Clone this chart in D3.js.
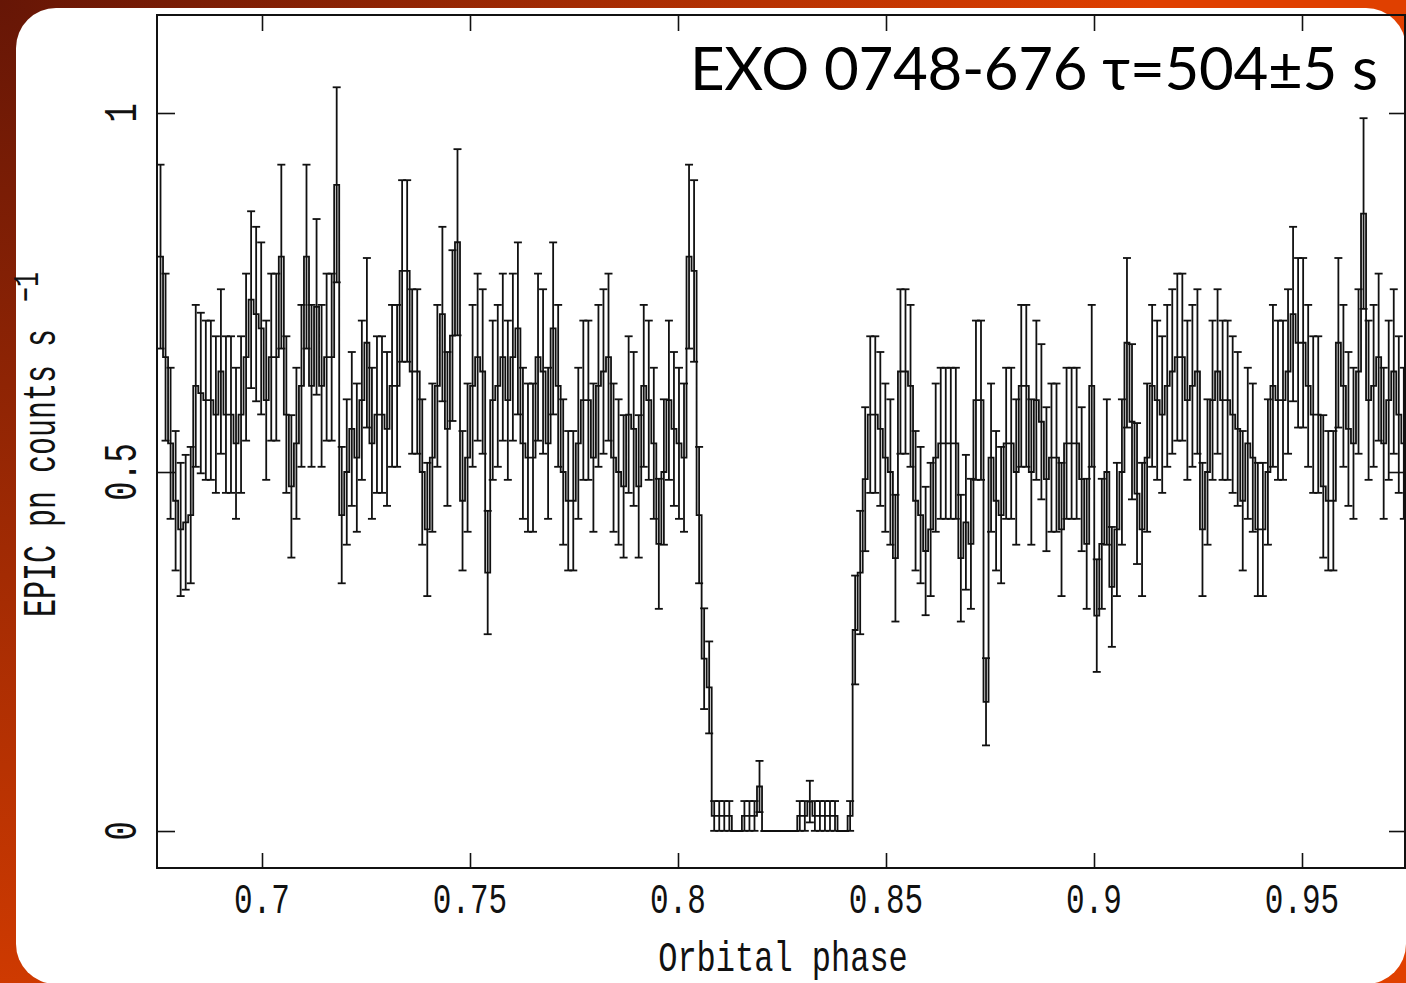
<!DOCTYPE html>
<html>
<head>
<meta charset="utf-8">
<title>EXO 0748-676 eclipse</title>
<script src="https://d3js.org/d3.v7.min.js"></script>
<style>
  body { margin:0; }
  svg { display:block; }
  .frame { fill:none; stroke:#111; stroke-width:2; }
  .hist { fill:none; stroke:#111; stroke-width:1.8; }
  .err { stroke:#111; stroke-width:1.8; }
  .axis path { display:none; }
  .axis line { stroke:#111; stroke-width:1.6; }
  .mono { font-family:"Liberation Mono", "DejaVu Sans Mono", monospace; fill:#111; }
</style>
</head>
<body>
<script>
// folded EPIC pn light curve, one bin = 0.00121 in phase
var phaseStart = 0.675;
var binWidth = 0.00121;
var countRate = 0.0205;   // rate that one count in a bin gives

// count rates before the eclipse
var ratePre = [0.80,0.66,0.54,0.46,0.42,0.43,0.44,0.62,0.61,0.60,0.60,0.58,0.64,0.58,0.58,0.54,0.58,0.66,0.74,0.72,0.70,0.60,0.66,0.66,
  0.80,0.58,0.48,0.54,0.62,0.80,0.62,0.73,0.62,0.66,0.66,0.90,0.44,0.50,0.56,0.52,0.60,0.68,0.54,0.58,0.58,0.56,0.62,0.62,0.78,
  0.78,0.64,0.64,0.50,0.42,0.52,0.62,0.72,0.56,0.69,0.82,0.46,0.52,0.62,0.66,0.64,0.36,0.60,0.62,0.66,0.60,0.66,0.70,0.54,0.52,
  0.52,0.66,0.64,0.54,0.70,0.62,0.50,0.46,0.46,0.54,0.60,0.60,0.52,0.62,0.64,0.66,0.52,0.50,0.48,0.58,0.56,0.48,0.62,0.60,0.54,
  0.40,0.50,0.60,0.56,0.54,0.52,0.80,0.78,0.44,0.24,0.20];
// count rates in the eclipse
var rateEclipse = [0.021,0.021,0.021,0.021,0,0,0.021,0.021,0.021,0.062,0,0,0,0,0,0,0,0.021,0.021,0.041,0.021,0.021,0.021,0.021,0.021,0,0,0.021];
// count rates after the eclipse
var ratePost = [0.28,0.36,0.49,0.58,0.58,0.56,0.52,0.50,0.38,0.64,
  0.64,0.62,0.46,0.44,0.39,0.42,0.52,0.54,0.54,0.54,0.54,0.38,0.43,0.40,0.60,0.60,0.18,0.52,0.46,0.44,0.54,0.54,0.50,0.62,0.62,
  0.50,0.60,0.57,0.49,0.52,0.52,0.42,0.54,0.54,0.54,0.49,0.40,0.62,0.30,0.40,0.50,0.34,0.42,0.50,0.68,0.57,0.47,0.42,0.52,0.62,
  0.60,0.58,0.62,0.64,0.66,0.66,0.60,0.62,0.64,0.42,0.50,0.60,0.64,0.60,0.60,0.58,0.56,0.46,0.54,0.52,0.42,0.42,0.50,0.62,0.60,
  0.60,0.64,0.72,0.68,0.68,0.62,0.58,0.58,0.48,0.46,0.46,0.68,0.62,0.56,0.54,0.64,0.86,0.60,0.62,0.66,0.54,0.60,0.64,0.58,0.54];

var xTicks = [0.7, 0.75, 0.8, 0.85, 0.9, 0.95];
var xTickLabels = ["0.7", "0.75", "0.8", "0.85", "0.9", "0.95"];
var yTicks = [0, 0.5, 1];
var yTickLabels = ["0", "0.5", "1"];
var titleText = "EXO 0748-676 \u03c4=504\u00b15 s";
var xTitle = "Orbital phase";
var yTitle = "EPIC pn counts s";

var W = 1406, H = 983;
var L = 157, R = 1405, T = 15, B = 868;

var svg = d3.select("body").append("svg").attr("width", W).attr("height", H);
var defs = svg.append("defs");
var grad = defs.append("radialGradient").attr("id", "bg")
  .attr("gradientUnits", "userSpaceOnUse").attr("cx", 0).attr("cy", 0).attr("r", 1150);
grad.append("stop").attr("offset", "0%").attr("stop-color", "#661606");
grad.append("stop").attr("offset", "100%").attr("stop-color", "#e04000");
defs.append("clipPath").attr("id", "plotclip").append("rect")
  .attr("x", L).attr("y", T).attr("width", R - L).attr("height", B - T);

svg.append("rect").attr("width", W).attr("height", H).attr("fill", "url(#bg)");
svg.append("rect").attr("x", 16).attr("y", 8).attr("width", 1390).attr("height", 976)
  .attr("rx", 40).attr("fill", "#fff");

var x = d3.scaleLinear().domain([0.67476, 0.97476]).range([L, R]);
var y = d3.scaleLinear().domain([-0.0515, 1.1365]).range([B, T]);

var rate = ratePre.concat(rateEclipse, ratePost);
var bins = rate.map(function(r, i) {
  return {x0: phaseStart + i * binWidth, x1: phaseStart + (i + 1) * binWidth, r: r, e: Math.sqrt(r * countRate)};
});

var plot = svg.append("g").attr("clip-path", "url(#plotclip)");

var pts = bins.map(function(b) { return [b.x0, b.r]; });
pts.push([bins[bins.length - 1].x1, bins[bins.length - 1].r]);
var step = d3.line().x(function(d) { return x(d[0]); }).y(function(d) { return y(d[1]); }).curve(d3.curveStepAfter);
plot.append("path").attr("class", "hist").attr("d", step(pts));

var eb = plot.append("g").selectAll("g").data(bins).enter().append("g").attr("class", "err");
eb.append("line")
  .attr("x1", function(d) { return x((d.x0 + d.x1) / 2); }).attr("x2", function(d) { return x((d.x0 + d.x1) / 2); })
  .attr("y1", function(d) { return y(d.r - d.e); }).attr("y2", function(d) { return y(d.r + d.e); });
[-1, 1].forEach(function(s) {
  eb.append("line")
    .attr("x1", function(d) { return x((d.x0 + d.x1) / 2) - 4; }).attr("x2", function(d) { return x((d.x0 + d.x1) / 2) + 4; })
    .attr("y1", function(d) { return y(d.r + s * d.e); }).attr("y2", function(d) { return y(d.r + s * d.e); });
});

// ticks on all four sides, pointing in
svg.append("g").attr("class", "axis").attr("transform", "translate(0," + B + ")")
  .call(d3.axisBottom(x).tickValues(xTicks).tickSize(-15).tickFormat(""));
svg.append("g").attr("class", "axis").attr("transform", "translate(0," + T + ")")
  .call(d3.axisTop(x).tickValues(xTicks).tickSize(-16).tickFormat(""));
svg.append("g").attr("class", "axis").attr("transform", "translate(" + L + ",0)")
  .call(d3.axisLeft(y).tickValues(yTicks).tickSize(-18).tickFormat(""));
svg.append("g").attr("class", "axis").attr("transform", "translate(" + R + ",0)")
  .call(d3.axisRight(y).tickValues(yTicks).tickSize(-16).tickFormat(""));

svg.append("rect").attr("class", "frame").attr("x", L).attr("y", T).attr("width", R - L).attr("height", B - T);

// labels, tall narrow typewriter look
function label(tx, ty, rot, str, size, sy, anchor) {
  svg.append("text").attr("class", "mono")
    .attr("transform", "translate(" + tx + "," + ty + ") rotate(" + rot + ") scale(1," + sy + ")")
    .attr("text-anchor", anchor).style("font-size", size + "px").text(str);
}
xTicks.forEach(function(v, i) { label(x(v), 913, 0, xTickLabels[i], 31, 1.4, "middle"); });
yTicks.forEach(function(v, i) { label(136, y(v), -90, yTickLabels[i], 32, 1.45, "middle"); });
label((L + R) / 2 + 2, 971, 0, xTitle, 32, 1.3, "middle");
label(55, 617, -90, yTitle, 30, 1.55, "start");
label(38, 302, -90, "\u22121", 25, 1.5, "start");

svg.append("text").attr("x", 690).attr("y", 90)
  .attr("textLength", 688).attr("lengthAdjust", "spacing")
  .style("font-family", "Lato, 'Open Sans', sans-serif").style("font-size", "60px").style("fill", "#000")
  .text(titleText);
</script>
</body>
</html>
